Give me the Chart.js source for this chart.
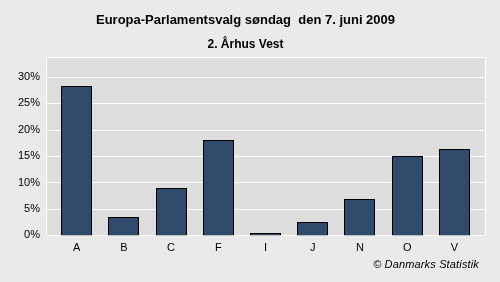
<!DOCTYPE html>
<html>
<head>
<meta charset="utf-8">
<script src="https://cdn.jsdelivr.net/npm/chart.js@4"></script>
<style>
  html, body { margin: 0; padding: 0; background: #eaeaea; }
  #wrap { position: relative; width: 500px; height: 282px; }
  #credit {
    position: absolute; right: 21px; top: 258px;
    font: italic 11px "Liberation Sans", Arial, sans-serif; color: #000;
    letter-spacing: 0.15px;
  }
</style>
</head>
<body>
<div id="wrap">
  <canvas id="chart" width="500" height="282"></canvas>
  <div id="credit">© Danmarks Statistik</div>
</div>
<script>
// partier og stemmeandel i procent
const parties = ['A', 'B', 'C', 'F', 'I', 'J', 'N', 'O', 'V'];
const shares = [28.3, 3.4, 8.9, 18.0, 0.4, 2.5, 6.8, 15.0, 16.3];
const yTicks = [0, 5, 10, 15, 20, 25, 30];

const FONT = '"Liberation Sans", Arial, sans-serif';
const SIDE = 6.6; // plot background sticks out a bit past the categories

// grey plot panel with white grid, like the DST charts
const plotPanel = {
  id: 'plotPanel',
  beforeDatasetsDraw(chart) {
    const { ctx, chartArea: a, scales: { y } } = chart;
    const l = a.left - SIDE, r = a.right + SIDE;
    ctx.save();
    ctx.fillStyle = '#dedede';
    ctx.fillRect(l, a.top, r - l, a.bottom - a.top);
    ctx.strokeStyle = '#ffffff';
    ctx.lineWidth = 1;
    ctx.beginPath();
    yTicks.forEach(v => {
      const py = Math.round(y.getPixelForValue(v)) + 0.5;
      ctx.moveTo(l, py);
      ctx.lineTo(r, py);
    });
    ctx.moveTo(Math.round(l) + 0.5, a.bottom);
    ctx.lineTo(Math.round(l) + 0.5, a.top);
    ctx.moveTo(l, Math.round(a.top) + 0.5);
    ctx.lineTo(r, Math.round(a.top) + 0.5);
    ctx.moveTo(Math.round(r) + 0.5, a.top);
    ctx.lineTo(Math.round(r) + 0.5, a.bottom);
    ctx.stroke();
    ctx.restore();

    // snap bars to whole pixels so the black outline stays crisp
    chart.getDatasetMeta(0).data.forEach(bar => {
      bar.x = Math.round(bar.x - 0.5) + 0.5;
      bar.y = Math.round(bar.y);
      bar.base = Math.round(bar.base) + 1;
      bar.width = 31;
    });
  }
};

new Chart(document.getElementById('chart'), {
  type: 'bar',
  data: {
    labels: parties,
    datasets: [{
      data: shares,
      backgroundColor: '#31496b',
      borderColor: '#000000',
      borderWidth: 1,
      borderSkipped: false,
      inflateAmount: 0,
      categoryPercentage: 1,
      barPercentage: 0.644
    }]
  },
  options: {
    responsive: false,
    animation: false,
    devicePixelRatio: 1,
    layout: { padding: { left: 0, right: 9, top: 0, bottom: 16.7 } },
    plugins: {
      legend: { display: false },
      tooltip: { enabled: false },
      title: {
        display: true,
        text: 'Europa-Parlamentsvalg søndag  den 7. juni 2009',
        color: '#000',
        font: { family: FONT, size: 13, weight: 'bold' },
        padding: { top: 13, bottom: 4 }
      },
      subtitle: {
        display: true,
        text: '2. Århus Vest',
        color: '#000',
        font: { family: FONT, size: 12, weight: 'bold' },
        padding: { top: 4.7, bottom: 5.6 }
      }
    },
    scales: {
      x: {
        grid: { display: false, drawTicks: false },
        border: { display: false },
        ticks: { color: '#000', font: { family: FONT, size: 11 }, padding: 6 },
        afterFit(s) { s.height = 30; }
      },
      y: {
        min: 0,
        max: 33.7,
        grid: { display: false, drawTicks: false },
        border: { display: false },
        ticks: {
          stepSize: 5,
          includeBounds: false,
          color: '#000',
          padding: 13,
          font: { family: FONT, size: 11 },
          callback: v => v + '%'
        },
        afterBuildTicks(s) { s.ticks = yTicks.map(v => ({ value: v })); },
        afterFit(s) { s.width = 53; }
      },
      // empty right-hand axis, only keeps the margin right of the plot
      yRight: {
        position: 'right',
        min: 0,
        max: 33.7,
        grid: { display: false, drawTicks: false },
        border: { display: false },
        ticks: { display: false },
        afterFit(s) { s.width = 13; }
      }
    }
  },
  plugins: [plotPanel]
});
</script>
</body>
</html>
